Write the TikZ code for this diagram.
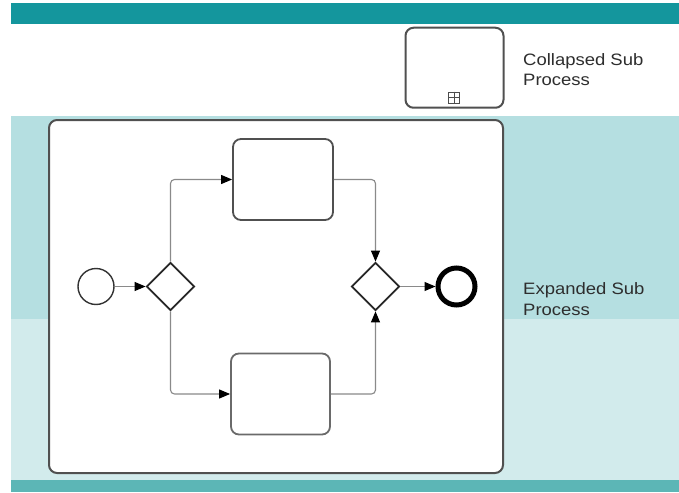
\documentclass[tikz,border=0pt]{standalone}
\usepackage{fontspec}
\newfontfamily\lblfont{Liberation Sans}[FakeStretch=1.12]
\usetikzlibrary{shapes.geometric,arrows.meta}
\definecolor{bandtop}{HTML}{14969D}
\definecolor{bandmid}{HTML}{B5DFE1}
\definecolor{bandlow}{HTML}{D2EBEC}
\definecolor{bandbot}{HTML}{5CB6B6}
\definecolor{boxline}{HTML}{505050}
\definecolor{flowline}{HTML}{8A8A8A}
\definecolor{txt}{HTML}{2E2E2E}
\tikzset{
  x=1pt, y=-1pt,
  subproc/.style={draw=boxline, line width=2pt, rounded corners=8pt, fill=white, inner sep=0pt},
  taskbox/.style={draw=boxline, line width=1.8pt, rounded corners=8pt, fill=white, inner sep=0pt, minimum width=99pt, minimum height=81pt},
  gateway/.style={diamond, draw=black!85, line width=1.8pt, fill=white, inner sep=0pt, minimum width=48pt, minimum height=48pt},
  startev/.style={circle, draw=black!80, line width=1.4pt, fill=white, inner sep=0pt, minimum size=36pt},
  endev/.style={circle, draw=black, line width=5pt, fill=white, inner sep=0pt, minimum size=37pt},
  flow/.style={draw=flowline, line width=1.1pt, rounded corners=4pt, -{Triangle[length=11pt,width=9pt,color=black]}},
  lbl/.style={font=\lblfont\fontsize{16.5}{20.5}\selectfont, text=txt, align=left, inner sep=0pt},
  marker/.style={draw=black!70, line width=0.9pt, minimum size=11pt, inner sep=0pt}
}
\begin{document}
\begin{tikzpicture}
\useasboundingbox (0,0) rectangle (679,492);
% background bands
\fill[white] (0,0) rectangle (679,492);
\fill[bandtop] (11,3) rectangle (679,24);
\fill[bandmid] (11,116) rectangle (679,319);
\fill[bandlow] (11,319) rectangle (679,480);
\fill[bandbot] (11,480) rectangle (679,492);
% collapsed sub process
\node[subproc, minimum width=98pt, minimum height=80pt] (coll) at (454.5,67.75) {};
\node[marker] (collmark) at (454,97.5) {};
\draw[black!70, line width=0.9pt] (collmark.north) -- (collmark.south) (collmark.west) -- (collmark.east);
\node[lbl, anchor=base west] (colllbl) at (523,86) {Collapsed Sub\\Process};
% expanded sub process
\node[subproc, minimum width=454pt, minimum height=353pt] (exp) at (276,296.5) {};
\node[lbl, anchor=base west] (explbl) at (523,315) {Expanded Sub\\Process};
% content
\node[startev] (start) at (96,286.5) {};
\node[gateway] (gw1) at (170.5,286.5) {};
\node[gateway] (gw2) at (375.5,286.5) {};
\node[endev] (end) at (456.5,286.5) {};
\node[taskbox, minimum width=100pt] (taskA) at (283,179.5) {};
\node[taskbox, draw=boxline!85] (taskB) at (280.5,394) {};
\draw[flow] (start) -- (gw1);
\draw[flow] (gw1.north) |- (taskA.west);
\draw[flow] (taskA.east) -| (gw2.north);
\draw[flow] (gw1.south) |- (taskB.west);
\draw[flow] (taskB.east) -| (gw2.south);
\draw[flow] (gw2) -- (end);
\end{tikzpicture}
\end{document}
